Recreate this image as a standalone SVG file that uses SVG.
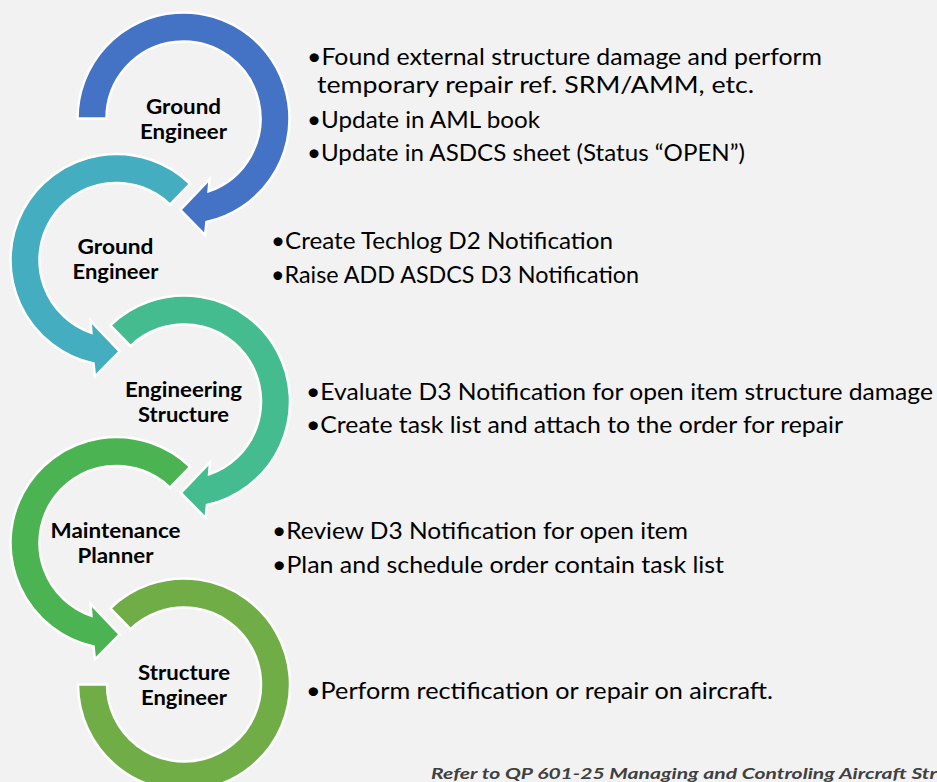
<svg xmlns="http://www.w3.org/2000/svg" width="937" height="782" viewBox="0 0 937 782">
  <style>
    .arc { stroke: #ffffff; stroke-width: 2.5; stroke-linejoin: miter; }
    .lbl { font-family: Lato, "Open Sans", "Liberation Sans", sans-serif; font-weight: 700; font-size: 21px; fill: #000000; text-anchor: middle; }
    .txt { font-family: Lato, "Open Sans", "Liberation Sans", sans-serif; font-size: 23px; fill: #000000; }
    .note { font-family: Lato, "Open Sans", "Liberation Sans", sans-serif; font-size: 16px; font-weight: 700; font-style: italic; fill: #404040; }
  </style>
  <defs>
    <!-- clockwise circular arrow, cut flat at 9 o'clock, head at 6 o'clock -->
    <path id="arrowLeftStart" d="M -106 0 A 106 106 0 1 1 22.94 103.49 L 21.59 116.52 L -3.19 91.44 L 26.10 60.62 L 25.07 72.80 A 77 77 0 1 0 -77 0 Z"/>
    <!-- clockwise circular arrow, cut at upper left, head at 6 o'clock -->
    <path id="arrowDiagStart" d="M -73.64 -76.25 A 106 106 0 1 1 22.94 103.49 L 21.59 116.52 L -3.19 91.44 L 26.10 60.62 L 25.07 72.80 A 77 77 0 1 0 -53.49 -55.39 Z"/>
    <!-- final ring without head, ends flat at 9 o'clock -->
    <path id="ringEnd" d="M -73.64 -76.25 A 106 106 0 1 1 -106 0 L -77 0 A 77 77 0 1 0 -53.49 -55.39 Z"/>
  </defs>

  <rect x="0" y="0" width="937" height="782" fill="#f2f2f2"/>

  <g id="step1">
    <use href="#arrowLeftStart" class="arc" fill="#4472c4" transform="translate(183.5 118.5)"/>
    <text class="lbl" x="183.5" y="113.5" textLength="75" lengthAdjust="spacingAndGlyphs">Ground</text>
    <text class="lbl" x="183.5" y="138.5" textLength="87" lengthAdjust="spacingAndGlyphs">Engineer</text>
    <text class="txt" x="307" y="65" textLength="515" lengthAdjust="spacingAndGlyphs">•Found external structure damage and perform</text>
    <text class="txt" x="317" y="93" textLength="437" lengthAdjust="spacingAndGlyphs">temporary repair ref. SRM/AMM, etc.</text>
    <text class="txt" x="307" y="128" textLength="233" lengthAdjust="spacingAndGlyphs">•Update in AML book</text>
    <text class="txt" x="307" y="161" textLength="438" lengthAdjust="spacingAndGlyphs">•Update in ASDCS sheet (Status “OPEN”)</text>
  </g>

  <g id="step2">
    <use href="#arrowDiagStart" class="arc" fill="#44aec0" transform="translate(116.5 260) scale(-1 1)"/>
    <text class="lbl" x="115.5" y="254" textLength="76" lengthAdjust="spacingAndGlyphs">Ground</text>
    <text class="lbl" x="115.5" y="279" textLength="86" lengthAdjust="spacingAndGlyphs">Engineer</text>
    <text class="txt" x="271" y="249" textLength="342" lengthAdjust="spacingAndGlyphs">•Create Techlog D2 Notification</text>
    <text class="txt" x="271" y="283" textLength="368" lengthAdjust="spacingAndGlyphs">•Raise ADD ASDCS D3 Notification</text>
  </g>

  <g id="step3">
    <use href="#arrowDiagStart" class="arc" fill="#45bc8f" transform="translate(184 401.5)"/>
    <text class="lbl" x="183.5" y="397" textLength="117" lengthAdjust="spacingAndGlyphs">Engineering</text>
    <text class="lbl" x="183.5" y="422" textLength="91" lengthAdjust="spacingAndGlyphs">Structure</text>
    <text class="txt" x="306" y="400" textLength="627" lengthAdjust="spacingAndGlyphs">•Evaluate D3 Notification for open item structure damage</text>
    <text class="txt" x="306" y="433" textLength="537" lengthAdjust="spacingAndGlyphs">•Create task list and attach to the order for repair</text>
  </g>

  <g id="step4">
    <use href="#arrowDiagStart" class="arc" fill="#4bb352" transform="translate(116.5 543) scale(-1 1)"/>
    <text class="lbl" x="115.5" y="538" textLength="130" lengthAdjust="spacingAndGlyphs">Maintenance</text>
    <text class="lbl" x="115.5" y="563" textLength="76" lengthAdjust="spacingAndGlyphs">Planner</text>
    <text class="txt" x="272" y="539" textLength="416" lengthAdjust="spacingAndGlyphs">•Review D3 Notification for open item</text>
    <text class="txt" x="272" y="573" textLength="452" lengthAdjust="spacingAndGlyphs">•Plan and schedule order contain task list</text>
  </g>

  <g id="step5">
    <use href="#ringEnd" class="arc" fill="#70ad47" transform="translate(184 684.5)"/>
    <text class="lbl" x="184" y="680" textLength="92" lengthAdjust="spacingAndGlyphs">Structure</text>
    <text class="lbl" x="184" y="705" textLength="86" lengthAdjust="spacingAndGlyphs">Engineer</text>
    <text class="txt" x="306" y="699" textLength="467" lengthAdjust="spacingAndGlyphs">•Perform rectification or repair on aircraft.</text>
  </g>

  <text class="note" x="431" y="779" textLength="506" lengthAdjust="spacingAndGlyphs">Refer to  QP 601-25 Managing and Controling Aircraft Str</text>
</svg>
